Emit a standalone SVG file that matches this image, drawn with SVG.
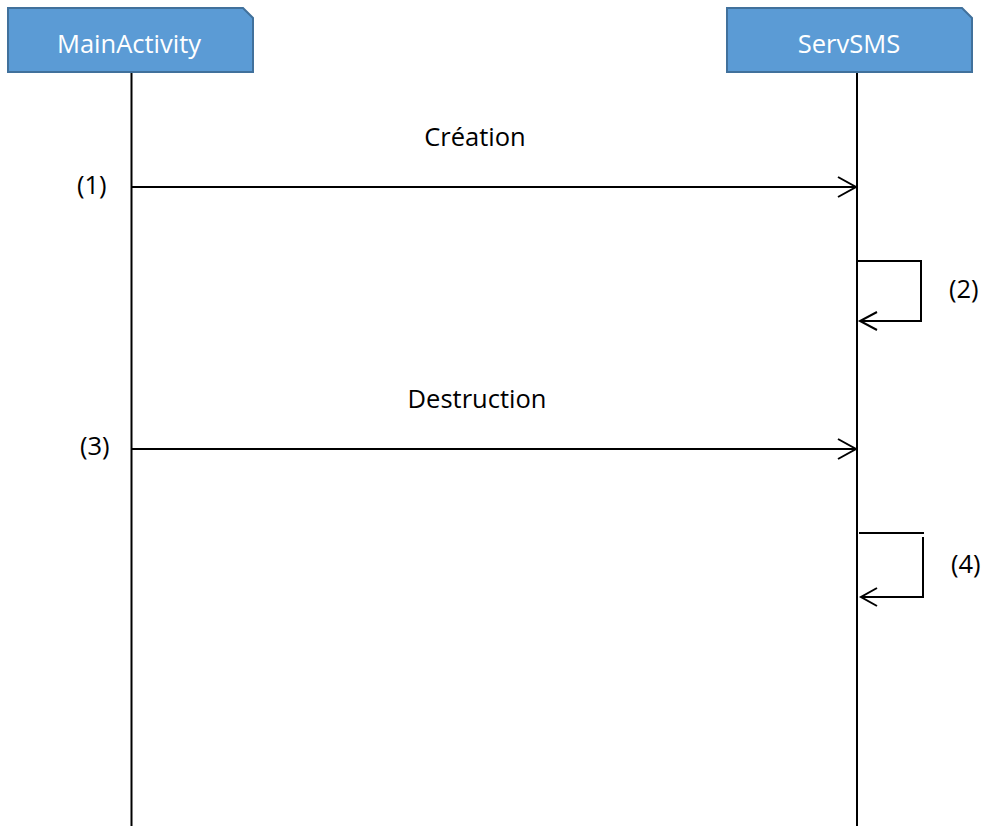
<svg xmlns="http://www.w3.org/2000/svg" width="986" height="826" viewBox="0 0 986 826">
  <style>
    .head { fill: #5B9BD5; stroke: #41719C; stroke-width: 2; }
    .head-text { font-family: "Open Sans", "Liberation Sans", sans-serif; font-size: 25.5px; fill: #FFFFFF; text-anchor: middle; }
    .label { font-family: "Open Sans", "Liberation Sans", sans-serif; font-size: 25.5px; fill: #000000; }
    .life { stroke: #000000; stroke-width: 2; fill: none; }
    .msg { stroke: #000000; stroke-width: 2; fill: none; }
  </style>

  <!-- lifeline heads -->
  <g id="mainactivity">
    <path class="head" d="M8,8 H243 L253,18 V72 H8 Z"/>
    <text class="head-text" x="129" y="53">MainActivity</text>
    <line class="life" x1="131.5" y1="73" x2="131.5" y2="826"/>
  </g>
  <g id="servsms">
    <path class="head" d="M727,8 H962 L972,18 V72 H727 Z"/>
    <text class="head-text" x="849" y="53">ServSMS</text>
    <line class="life" x1="857" y1="73" x2="857" y2="826"/>
  </g>

  <!-- messages -->
  <g id="connectors">
    <!-- (1) Création -->
    <line class="msg" x1="132" y1="187" x2="855" y2="187"/>
    <polyline class="msg" points="838,177 856,187 838,197"/>
    <!-- (2) self call -->
    <polyline class="msg" points="858,261 921,261 921,321 860,321"/>
    <polyline class="msg" points="877,312 860,321 877,330"/>
    <!-- (3) Destruction -->
    <line class="msg" x1="132" y1="449" x2="855" y2="449"/>
    <polyline class="msg" points="838,439 856,449 838,459"/>
    <!-- (4) self call -->
    <line class="msg" x1="859" y1="533" x2="924" y2="533"/>
    <polyline class="msg" points="923,537 923,597 861,597"/>
    <polyline class="msg" points="877,588 861,597 877,606"/>
  </g>

  <!-- labels -->
  <g id="labels">
    <text class="label" x="475" y="146" text-anchor="middle">Création</text>
    <text class="label" x="477" y="408" text-anchor="middle">Destruction</text>
    <text class="label" x="77" y="194">(1)</text>
    <text class="label" x="949" y="298">(2)</text>
    <text class="label" x="80" y="455">(3)</text>
    <text class="label" x="951" y="573">(4)</text>
  </g>
</svg>
